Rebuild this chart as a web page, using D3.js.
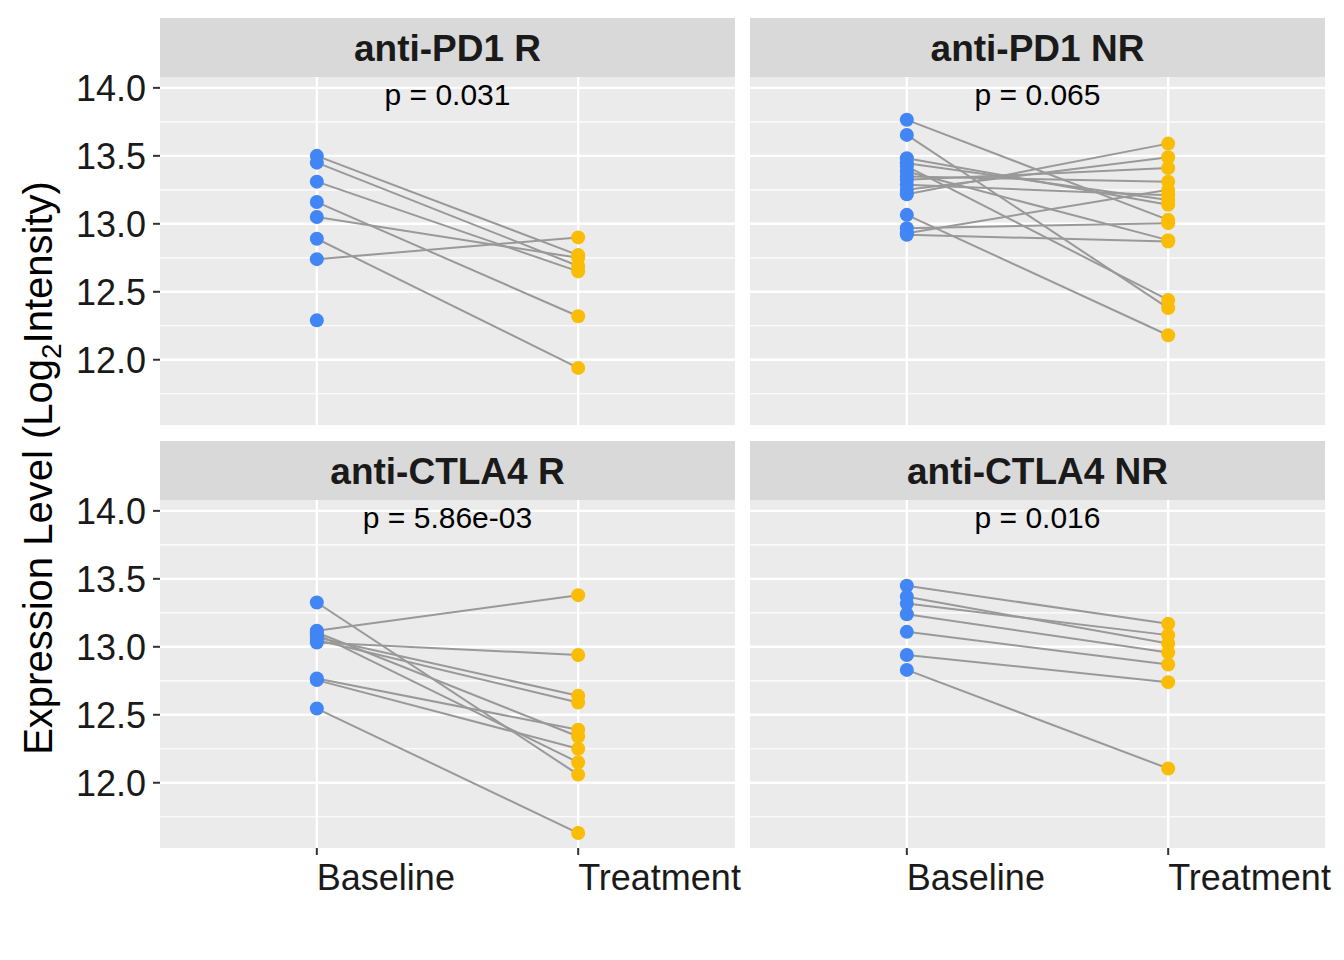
<!DOCTYPE html>
<html>
<head>
<meta charset="utf-8">
<script src="https://cdn.jsdelivr.net/npm/d3@7"></script>
<style>
body { margin: 0; background: #fff; }
text { font-family: "Liberation Sans", Arial, sans-serif; }
</style>
</head>
<body>
<svg id="chart" width="1344" height="960"></svg>
<script>
var panelTitles = ["anti-PD1 R", "anti-PD1 NR", "anti-CTLA4 R", "anti-CTLA4 NR"];
var pLabels = ["p = 0.031", "p = 0.065", "p = 5.86e-03", "p = 0.016"];
var groups = ["Baseline", "Treatment"];
var yTicks = [12.0, 12.5, 13.0, 13.5, 14.0];

// paired baseline / treatment values (null = unpaired)
var baseline = [
  [13.50, 13.45, 13.31, 13.16, 13.05, 12.89, 12.74, 12.29],
  [13.765, 13.654, 13.483, 13.446, 13.422, 13.385, 13.348, 13.324, 13.287, 13.25, 13.218, 13.066, 12.968, 12.931, 12.919],
  [13.326, 13.118, 13.105, 13.093, 13.068, 13.05, 13.032, 12.767, 12.755, 12.546],
  [13.449, 13.368, 13.318, 13.24, 13.11, 12.94, 12.83]
];
var treatment = [
  [12.77, 12.69, 12.65, 12.32, 12.75, 11.94, 12.90, null],
  [13.029, 12.38, 13.14, 13.176, 12.44, 12.88, 13.31, 13.41, 13.21, 13.49, 13.59, 12.18, 13.005, 13.25, 12.87],
  [12.06, 13.38, 12.34, 12.15, 12.64, 12.59, 12.94, 12.39, 12.25, 11.63],
  [13.17, 13.024, 13.086, 12.958, 12.87, 12.74, 12.105]
];

var svg = d3.select("#chart");
var colX = [160, 750], rowY = [18, 441];
var pw = 575, stripH = 59, ph = 348;

var x = d3.scaleLinear().domain([0.4, 2.6]).range([0, pw]);
var y = d3.scaleLinear().domain([11.52, 14.08]).range([ph, 0]);

panelTitles.forEach(function(t, i) {
  var c = i % 2, r = Math.floor(i / 2);
  var g = svg.append("g").attr("transform", "translate(" + colX[c] + "," + (rowY[r] + stripH) + ")");
  svg.append("rect").attr("x", colX[c]).attr("y", rowY[r]).attr("width", pw).attr("height", stripH).attr("fill", "#d9d9d9");
  svg.append("text").attr("x", colX[c] + pw / 2).attr("y", rowY[r] + stripH / 2 + 13)
    .attr("text-anchor", "middle").attr("font-size", 37).attr("font-weight", "bold").attr("fill", "#1a1a1a").text(t);
  g.append("rect").attr("width", pw).attr("height", ph).attr("fill", "#ebebeb");
  d3.range(11.75, 14.0, 0.5).forEach(function(v) {
    g.append("line").attr("x1", 0).attr("x2", pw).attr("y1", y(v)).attr("y2", y(v)).attr("stroke", "#fff").attr("stroke-width", 1.2);
  });
  yTicks.forEach(function(v) {
    g.append("line").attr("x1", 0).attr("x2", pw).attr("y1", y(v)).attr("y2", y(v)).attr("stroke", "#fff").attr("stroke-width", 2.4);
  });
  [1, 2].forEach(function(v) {
    g.append("line").attr("x1", x(v)).attr("x2", x(v)).attr("y1", 0).attr("y2", ph).attr("stroke", "#fff").attr("stroke-width", 2.4);
  });
  g.append("text").attr("x", pw / 2).attr("y", 28).attr("text-anchor", "middle").attr("font-size", 30).attr("fill", "#000").text(pLabels[i]);

  var pairs = baseline[i].map(function(b, k) { return { b: b, t: treatment[i][k] }; });
  pairs.forEach(function(p) {
    if (p.t != null) g.append("line").attr("x1", x(1)).attr("y1", y(p.b)).attr("x2", x(2)).attr("y2", y(p.t))
      .attr("stroke", "#999999").attr("stroke-width", 2);
  });
  pairs.forEach(function(p) {
    g.append("circle").attr("cx", x(1)).attr("cy", y(p.b)).attr("r", 7).attr("fill", "#4285F4");
    if (p.t != null) g.append("circle").attr("cx", x(2)).attr("cy", y(p.t)).attr("r", 7).attr("fill", "#FBBC05");
  });

  if (c == 0) {
    yTicks.forEach(function(v) {
      g.append("line").attr("x1", -7).attr("x2", 0).attr("y1", y(v)).attr("y2", y(v)).attr("stroke", "#333").attr("stroke-width", 2);
      g.append("text").attr("x", -14).attr("y", y(v) + 13).attr("text-anchor", "end").attr("font-size", 36).attr("fill", "#1a1a1a").text(v.toFixed(1));
    });
  }
  if (r == 1) {
    groups.forEach(function(name, k) {
      g.append("line").attr("x1", x(k + 1)).attr("x2", x(k + 1)).attr("y1", ph).attr("y2", ph + 7).attr("stroke", "#333").attr("stroke-width", 2);
      g.append("text").attr("x", x(k + 1)).attr("y", ph + 42).attr("font-size", 36).attr("fill", "#1a1a1a").text(name);
    });
  }
});

var yt = svg.append("text").attr("transform", "translate(52,468) rotate(-90)").attr("text-anchor", "middle")
  .attr("font-size", 40).attr("fill", "#000");
yt.append("tspan").text("Expression Level (Log");
yt.append("tspan").attr("font-size", 28).attr("dy", 9).text("2");
yt.append("tspan").attr("dy", -9).text("Intensity)");
</script>
</body>
</html>
